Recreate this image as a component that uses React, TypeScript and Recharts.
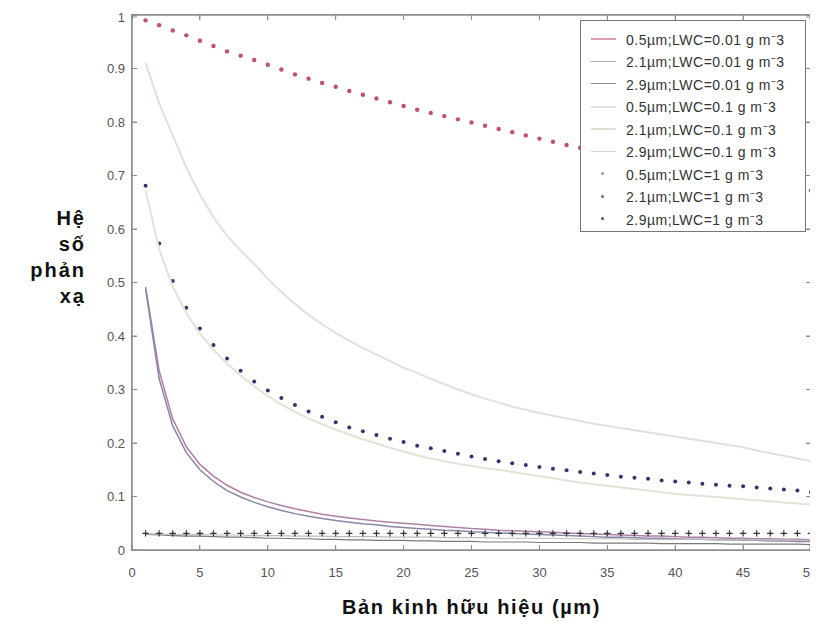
import React from 'react';
import { LineChart, Line, XAxis, YAxis, Legend } from 'recharts';

// Effective radius (µm)
const radius = [
  1, 2, 3, 4, 5, 6, 7, 8, 9, 10, 11, 12, 13, 14, 15, 16, 17, 18, 19, 20,
  21, 22, 23, 24, 25, 26, 27, 28, 29, 30, 31, 32, 33, 34, 35, 36, 37, 38, 39, 40,
  41, 42, 43, 44, 45, 46, 47, 48, 49, 50,
];

// LWC = 0.01 g m-3
const r05_lwc001 = [
  0.492, 0.335, 0.245, 0.193, 0.160, 0.138, 0.121, 0.108, 0.098, 0.090,
  0.083, 0.077, 0.072, 0.067, 0.063, 0.060, 0.057, 0.054, 0.052, 0.050,
  0.048, 0.046, 0.044, 0.042, 0.040, 0.039, 0.037, 0.036, 0.035, 0.034,
  0.033, 0.032, 0.031, 0.030, 0.029, 0.028, 0.027, 0.026, 0.026, 0.025,
  0.024, 0.024, 0.023, 0.022, 0.022, 0.021, 0.021, 0.020, 0.020, 0.019,
];
const r21_lwc001 = [
  0.488, 0.320, 0.232, 0.182, 0.150, 0.128, 0.111, 0.099, 0.089, 0.081,
  0.074, 0.068, 0.063, 0.059, 0.055, 0.052, 0.049, 0.047, 0.044, 0.042,
  0.040, 0.039, 0.037, 0.036, 0.034, 0.033, 0.032, 0.031, 0.030, 0.029,
  0.028, 0.027, 0.026, 0.025, 0.024, 0.024, 0.023, 0.022, 0.022, 0.021,
  0.020, 0.020, 0.019, 0.019, 0.018, 0.018, 0.017, 0.017, 0.016, 0.016,
];
const r29_lwc001 = [
  0.029, 0.028, 0.027, 0.026, 0.026, 0.025, 0.024, 0.024, 0.023, 0.022,
  0.022, 0.021, 0.021, 0.020, 0.020, 0.019, 0.019, 0.018, 0.018, 0.018,
  0.017, 0.017, 0.016, 0.016, 0.016, 0.015, 0.015, 0.015, 0.015, 0.014,
  0.014, 0.014, 0.014, 0.013, 0.013, 0.013, 0.013, 0.013, 0.012, 0.012,
  0.012, 0.012, 0.012, 0.011, 0.011, 0.011, 0.011, 0.011, 0.011, 0.010,
];

// LWC = 0.1 g m-3
const r05_lwc01 = [
  0.910, 0.835, 0.775, 0.715, 0.665, 0.622, 0.587, 0.560, 0.535, 0.507,
  0.482, 0.460, 0.440, 0.422, 0.406, 0.391, 0.378, 0.365, 0.353, 0.341,
  0.331, 0.320, 0.310, 0.300, 0.291, 0.283, 0.276, 0.268, 0.262, 0.256,
  0.251, 0.246, 0.241, 0.236, 0.232, 0.228, 0.224, 0.220, 0.216, 0.212,
  0.208, 0.204, 0.200, 0.196, 0.192, 0.186, 0.181, 0.176, 0.171, 0.166,
];
const r21_lwc01 = [
  0.672, 0.562, 0.492, 0.443, 0.405, 0.374, 0.348, 0.326, 0.306, 0.288,
  0.272, 0.258, 0.246, 0.235, 0.225, 0.216, 0.207, 0.199, 0.191, 0.184,
  0.177, 0.171, 0.166, 0.161, 0.157, 0.153, 0.150, 0.146, 0.142, 0.138,
  0.134, 0.130, 0.126, 0.123, 0.120, 0.117, 0.114, 0.111, 0.108, 0.105,
  0.103, 0.101, 0.099, 0.097, 0.095, 0.093, 0.091, 0.089, 0.087, 0.085,
];
const r29_lwc01 = [
  0.030, 0.030, 0.029, 0.029, 0.029, 0.028, 0.028, 0.028, 0.027, 0.027,
  0.027, 0.026, 0.026, 0.026, 0.025, 0.025, 0.025, 0.025, 0.024, 0.024,
  0.024, 0.024, 0.023, 0.023, 0.023, 0.023, 0.022, 0.022, 0.022, 0.022,
  0.022, 0.021, 0.021, 0.021, 0.021, 0.021, 0.020, 0.020, 0.020, 0.020,
  0.020, 0.020, 0.019, 0.019, 0.019, 0.019, 0.019, 0.019, 0.018, 0.018,
];

// LWC = 1 g m-3
const r05_lwc1 = [
  0.990, 0.981, 0.971, 0.962, 0.952, 0.942, 0.932, 0.924, 0.916, 0.907,
  0.898, 0.889, 0.881, 0.873, 0.866, 0.858, 0.851, 0.844, 0.837, 0.830,
  0.823, 0.817, 0.811, 0.805, 0.799, 0.793, 0.787, 0.781, 0.775, 0.769,
  0.763, 0.757, 0.752, 0.746, 0.741, 0.736, 0.731, 0.726, 0.721, 0.716,
  0.711, 0.706, 0.702, 0.697, 0.693, 0.688, 0.684, 0.680, 0.676, 0.672,
];
const r21_lwc1 = [
  0.681, 0.573, 0.503, 0.453, 0.414, 0.383, 0.358, 0.335, 0.315, 0.298,
  0.284, 0.271, 0.259, 0.249, 0.239, 0.229, 0.222, 0.215, 0.208, 0.202,
  0.195, 0.190, 0.185, 0.180, 0.175, 0.170, 0.166, 0.162, 0.159, 0.155,
  0.152, 0.149, 0.146, 0.143, 0.140, 0.137, 0.135, 0.133, 0.130, 0.128,
  0.126, 0.124, 0.122, 0.120, 0.119, 0.117, 0.115, 0.113, 0.111, 0.108,
];
const r29_lwc1 = [
  0.031, 0.031, 0.031, 0.031, 0.031, 0.031, 0.031, 0.031, 0.031, 0.031,
  0.031, 0.031, 0.031, 0.031, 0.031, 0.031, 0.031, 0.031, 0.031, 0.031,
  0.031, 0.031, 0.031, 0.031, 0.031, 0.031, 0.031, 0.031, 0.031, 0.031,
  0.031, 0.031, 0.031, 0.031, 0.031, 0.031, 0.031, 0.031, 0.031, 0.031,
  0.031, 0.031, 0.031, 0.031, 0.031, 0.031, 0.031, 0.031, 0.031, 0.031,
];

const xTicks = [0, 5, 10, 15, 20, 25, 30, 35, 40, 45, 50];
const yTicks = [0, 0.1, 0.2, 0.3, 0.4, 0.5, 0.6, 0.7, 0.8, 0.9, 1];

const seriesNames = [
  '0.5µm;LWC=0.01 g m⁻3',
  '2.1µm;LWC=0.01 g m⁻3',
  '2.9µm;LWC=0.01 g m⁻3',
  '0.5µm;LWC=0.1 g m⁻3',
  '2.1µm;LWC=0.1 g m⁻3',
  '2.9µm;LWC=0.1 g m⁻3',
  '0.5µm;LWC=1 g m⁻3',
  '2.1µm;LWC=1 g m⁻3',
  '2.9µm;LWC=1 g m⁻3',
];

const xTitle = 'Bản kinh hữu hiệu (µm)';
const yTitleLines = ['Hệ', 'số', 'phản', 'xạ'];

type Kind = 'line' | 'dot' | 'plus';
interface Series {
  key: string;
  name: string;
  values: number[];
  kind: Kind;
  color: string;
  width: number;
  legendColor: string;
}

const series: Series[] = [
  { key: 's1', name: seriesNames[0], values: r05_lwc001, kind: 'line', color: '#b07fa5', width: 1.5, legendColor: '#d9a0b0' },
  { key: 's2', name: seriesNames[1], values: r21_lwc001, kind: 'line', color: '#8a86a8', width: 1.5, legendColor: '#b8a8b0' },
  { key: 's3', name: seriesNames[2], values: r29_lwc001, kind: 'line', color: '#7a7a7a', width: 1.2, legendColor: '#8a8a8a' },
  { key: 's4', name: seriesNames[3], values: r05_lwc01, kind: 'line', color: '#e6dede', width: 2, legendColor: '#e6dede' },
  { key: 's5', name: seriesNames[4], values: r21_lwc01, kind: 'line', color: '#e2e2d6', width: 2, legendColor: '#e0e0d6' },
  { key: 's6', name: seriesNames[5], values: r29_lwc01, kind: 'line', color: '#bdbdbd', width: 1.2, legendColor: '#d6d6d6' },
  { key: 's7', name: seriesNames[6], values: r05_lwc1, kind: 'dot', color: '#c0506e', width: 2.2, legendColor: '#9a9a9a' },
  { key: 's8', name: seriesNames[7], values: r21_lwc1, kind: 'dot', color: '#35356e', width: 2, legendColor: '#666666' },
  { key: 's9', name: seriesNames[8], values: r29_lwc1, kind: 'plus', color: '#333333', width: 3.2, legendColor: '#555555' },
];

// series drawn in the frame (overlay) chart, which also carries the axes
const frameKeys = ['s4', 's5'];

const data = radius.map((x, i) => {
  const row: Record<string, number> = { x };
  series.forEach((s) => {
    row[s.key] = s.values[i];
  });
  return row;
});

const W = 810;
const H = 616;
// plot area inside the chart (shared by both layers)
const PLOT = { left: 124, top: 7, right: 803, bottom: 542 };
const X_DOMAIN = [0, 50];
const Y_DOMAIN = [0, 1];
const FONT = 'Liberation Sans, Arial, sans-serif';
const AXIS_COLOR = '#8f8f8f';
const TICK_LEN = 5;

const BottomTick = (p: any) => (
  <g>
    <line x1={p.x} x2={p.x} y1={p.y - 18} y2={p.y - 18 - TICK_LEN} stroke={AXIS_COLOR} strokeWidth={1} />
    <text x={p.x} y={p.y} dy="0.71em" textAnchor="middle" fontFamily={FONT} fontSize={13} fill="#555555">
      {p.payload.value}
    </text>
  </g>
);
const LeftTick = (p: any) => (
  <g>
    <line x1={p.x + 7} x2={p.x + 7 + TICK_LEN} y1={p.y} y2={p.y} stroke={AXIS_COLOR} strokeWidth={1} />
    <text x={p.x} y={p.y} dy="0.355em" textAnchor="end" fontFamily={FONT} fontSize={13} fill="#555555">
      {p.payload.value}
    </text>
  </g>
);
const TopTick = (p: any) => <line x1={p.x} x2={p.x} y1={p.y} y2={p.y + TICK_LEN} stroke={AXIS_COLOR} strokeWidth={1} />;
const RightTick = (p: any) => <line x1={p.x} x2={p.x - TICK_LEN} y1={p.y} y2={p.y} stroke={AXIS_COLOR} strokeWidth={1} />;

const PlusDot = (p: any) => {
  if (p.cx == null || p.cy == null) return null;
  const h = 3.2;
  return (
    <path
      d={`M${p.cx - h},${p.cy}H${p.cx + h}M${p.cx},${p.cy - h}V${p.cy + h}`}
      stroke={p.markColor}
      strokeWidth={1.2}
      fill="none"
    />
  );
};

const LegendBox = () => (
  <div
    style={{
      width: 226,
      height: 212,
      boxSizing: 'border-box',
      background: '#ffffff',
      border: '1px solid #777777',
      paddingTop: 7,
      fontFamily: FONT,
      fontSize: 14,
      letterSpacing: 0.5,
      color: '#333333',
    }}
  >
    {series.map((s) => (
      <div key={s.key} style={{ height: 22.5, display: 'flex', alignItems: 'center' }}>
        <div style={{ width: 45, height: 12, flex: '0 0 45px', position: 'relative' }}>
          {s.kind === 'line' ? (
            <div style={{ position: 'absolute', left: 10, top: 5, width: 25, height: Math.max(1, s.width), background: s.legendColor }} />
          ) : (
            <div style={{ position: 'absolute', left: 20, top: 4, width: 3, height: 3, borderRadius: 2, background: s.legendColor }} />
          )}
        </div>
        <span style={{ whiteSpace: 'nowrap' }}>{s.name}</span>
      </div>
    ))}
  </div>
);

const XTitle = (props: any) => {
  const vb = props.viewBox;
  return (
    <text x={vb.x + vb.width / 2} y={vb.y + 64} textAnchor="middle" fontFamily={FONT} fontWeight="bold" fontSize={20} letterSpacing={1.6} fill="#111111">
      {xTitle}
    </text>
  );
};

const YTitle = (props: any) => {
  const vb = props.viewBox;
  const right = vb.x - 45;
  return (
    <g>
      {yTitleLines.map((t, i) => (
        <text key={t} x={right} y={vb.y + 210 + i * 26} textAnchor="end" fontFamily={FONT} fontWeight="bold" fontSize={20} letterSpacing={2} fill="#111111">
          {t}
        </text>
      ))}
    </g>
  );
};

const renderSeries = (s: Series) => {
  if (s.kind === 'line') {
    return <Line key={s.key} dataKey={s.key} name={s.name} stroke={s.color} strokeWidth={s.width} dot={false} isAnimationActive={false} />;
  }
  if (s.kind === 'dot') {
    return (
      <Line key={s.key} dataKey={s.key} name={s.name} stroke={s.color} strokeOpacity={0} dot={{ r: s.width, fill: s.color, stroke: s.color, strokeWidth: 0 }} isAnimationActive={false} />
    );
  }
  return <Line key={s.key} dataKey={s.key} name={s.name} stroke={s.color} strokeOpacity={0} dot={<PlusDot markColor={s.color} />} isAnimationActive={false} />;
};

const s4 = series.find((s) => s.key === 's4')!;
const s5 = series.find((s) => s.key === 's5')!;

// MATLAB-style box frame with inward ticks (HTML decoration over the plot area)
const FrameBox = () => {
  const pw = PLOT.right - PLOT.left;
  const ph = PLOT.bottom - PLOT.top;
  const xPos = (v: number) => ((v - X_DOMAIN[0]) / (X_DOMAIN[1] - X_DOMAIN[0])) * pw;
  const yPos = (v: number) => ph - ((v - Y_DOMAIN[0]) / (Y_DOMAIN[1] - Y_DOMAIN[0])) * ph;
  const tick = (style: React.CSSProperties, k: string) => (
    <div key={k} style={{ position: 'absolute', background: AXIS_COLOR, ...style }} />
  );
  return (
    <div style={{ position: 'absolute', left: PLOT.left, top: PLOT.top, width: pw, height: ph, pointerEvents: 'none' }}>
      <div
        style={{
          position: 'absolute',
          left: -1,
          top: -1,
          width: pw + 2,
          height: ph + 2,
          boxSizing: 'border-box',
          border: `1.5px solid ${AXIS_COLOR}`,
        }}
      />
      {xTicks.map((v) => tick({ left: xPos(v) - 0.5, top: ph - TICK_LEN, width: 1, height: TICK_LEN }, `xb${v}`))}
      {xTicks.map((v) => tick({ left: xPos(v) - 0.5, top: 0, width: 1, height: TICK_LEN }, `xt${v}`))}
      {yTicks.map((v) => tick({ left: 0, top: yPos(v) - 0.5, width: TICK_LEN, height: 1 }, `yl${v}`))}
      {yTicks.map((v) => tick({ left: pw - TICK_LEN, top: yPos(v) - 0.5, width: TICK_LEN, height: 1 }, `yr${v}`))}
    </div>
  );
};

export default function App() {
  return (
    <div style={{ position: 'relative', width: W, height: H }}>
      {/* data layer: series + legend, axes hidden (same domains and plot area as the frame layer) */}
      <LineChart width={W} height={H} data={data} margin={{ top: 7, right: 7, bottom: 74, left: 124 }}>
        <XAxis dataKey="x" type="number" domain={X_DOMAIN} ticks={xTicks} hide />
        <YAxis type="number" domain={Y_DOMAIN} ticks={yTicks} hide />
        {series.filter((s) => !frameKeys.includes(s.key)).map(renderSeries)}
        <Legend layout="horizontal" verticalAlign="middle" align="center" content={() => <LegendBox />} wrapperStyle={{ left: 572, top: 12, width: 226, height: 212 }} />
      </LineChart>
      {/* axes layer: tick labels, titles, two light series */}
      <div style={{ position: 'absolute', left: 0, top: 0, pointerEvents: 'none' }}>
        <LineChart width={W} height={H} data={data} margin={{ top: 6, right: 6, bottom: 73, left: 123 }}>
          <XAxis dataKey="x" type="number" domain={X_DOMAIN} ticks={xTicks} height={1} tickSize={0} tickMargin={18} tick={BottomTick} stroke={AXIS_COLOR} strokeWidth={1.5} label={{ content: XTitle }} />
          <XAxis xAxisId="t" orientation="top" dataKey="x" type="number" domain={X_DOMAIN} ticks={xTicks} height={1} tickSize={0} tickMargin={0} tick={TopTick} stroke={AXIS_COLOR} strokeWidth={1.5} />
          <YAxis type="number" domain={Y_DOMAIN} ticks={yTicks} width={1} tickSize={0} tickMargin={7} tick={LeftTick} stroke={AXIS_COLOR} strokeWidth={1.5} label={{ content: YTitle }} />
          <YAxis yAxisId="r" orientation="right" type="number" domain={Y_DOMAIN} ticks={yTicks} width={1} tickSize={0} tickMargin={0} tick={RightTick} stroke={AXIS_COLOR} strokeWidth={1.5} />
          <Line xAxisId="t" yAxisId="r" dataKey={s5.key} name={s5.name} stroke={s5.color} strokeWidth={s5.width} dot={false} isAnimationActive={false} />
          <Line dataKey={s4.key} name={s4.name} stroke={s4.color} strokeWidth={s4.width} dot={false} isAnimationActive={false} />
        </LineChart>
      </div>
      <FrameBox />
    </div>
  );
}
